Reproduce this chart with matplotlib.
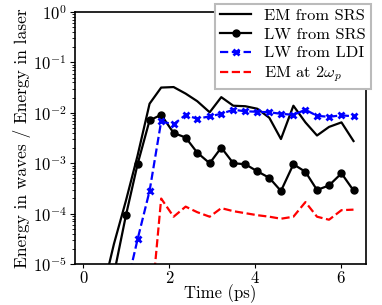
import numpy as np
import matplotlib
matplotlib.use("Agg")
import matplotlib.pyplot as plt

plt.rcParams['font.family'] = 'serif'
plt.rcParams['font.serif'] = ['cmr10', 'DejaVu Serif']
plt.rcParams['mathtext.fontset'] = 'cm'
plt.rcParams['axes.formatter.use_mathtext'] = True
plt.rcParams['font.size'] = 12
plt.rcParams['axes.linewidth'] = 1.2
plt.rcParams['xtick.major.size'] = 3
plt.rcParams['xtick.major.pad'] = 1
plt.rcParams['ytick.major.size'] = 3.5
plt.rcParams['ytick.major.pad'] = 2.5
plt.rcParams['ytick.minor.size'] = 2

# time axis (ps)
t = [0.43, 0.71, 0.99, 1.26, 1.54, 1.81, 2.10, 2.38, 2.65, 2.94, 3.21, 3.49,
     3.77, 4.05, 4.33, 4.60, 4.89, 5.17, 5.44, 5.72, 6.01, 6.29]

# log10 of energy fractions
em_srs = [-5.6, -4.6, -3.74, -2.85, -1.82, -1.50, -1.49, -1.62, -1.77, -1.99,
          -1.69, -1.86, -1.87, -1.92, -2.10, -2.52, -1.86, -2.19, -2.45, -2.28,
          -2.19, -2.56]
lw_srs = [-6.2, -5.2, -4.03, -3.02, -2.15, -2.04, -2.40, -2.49, -2.79, -3.00,
          -2.69, -3.00, -3.02, -3.16, -3.29, -3.55, -3.02, -3.17, -3.53, -3.44,
          -3.20, -3.54]
lw_ldi = [-7.5, -6.5, -5.5, -4.51, -3.55, -2.17, -2.23, -2.04, -2.12, -2.07,
          -2.02, -1.94, -1.97, -1.98, -1.99, -2.02, -2.04, -1.94, -2.06, -2.08,
          -2.05, -2.07]
em_2wp = [-9.0, -8.2, -7.2, -6.2, -6.2, -3.70, -4.06, -3.86, -3.97, -4.06,
          -3.89, -3.95, -3.99, -4.03, -4.06, -4.10, -4.06, -3.77, -4.06, -4.12,
          -3.93, -3.92]

t = np.array(t)
fig = plt.figure(figsize=(3.82, 3.05), dpi=100)
ax = fig.add_axes([0.196, 0.134, 0.762, 0.827])

ax.plot(t, 10 ** np.array(em_srs), color='k', lw=1.6, label='EM from SRS')
ax.plot(t, 10 ** np.array(lw_srs), color='k', lw=1.6, marker='o', ms=5,
        label='LW from SRS')
ax.plot(t, 10 ** np.array(lw_ldi), color='b', lw=1.6, ls='--', marker='x',
        ms=5, mew=2, label='LW from LDI')
ax.plot(t[4:], 10 ** np.array(em_2wp[4:]), color='r', lw=1.6, ls='--',
        label=r'EM at $2\omega_p$')

ax.set_yscale('log')
ax.set_ylim(1e-5, 1)
ax.set_xlim(-0.2, 6.58)
ax.set_xticks([0, 2, 4, 6])
ax.set_xlabel('Time (ps)', labelpad=-1)
ax.set_ylabel('Energy in waves / Energy in laser', labelpad=1, fontsize=12.5)

leg = ax.legend(loc='upper right', bbox_to_anchor=(1.017, 1.032), fancybox=False,
                framealpha=1, borderpad=0.3, labelspacing=0.25, fontsize=11.8,
                handlelength=1.9, handletextpad=0.8, borderaxespad=0)
leg.get_frame().set_edgecolor('#bbbbbb')
leg.get_frame().set_linewidth(1.5)

fig.savefig('out.png', dpi=100)
